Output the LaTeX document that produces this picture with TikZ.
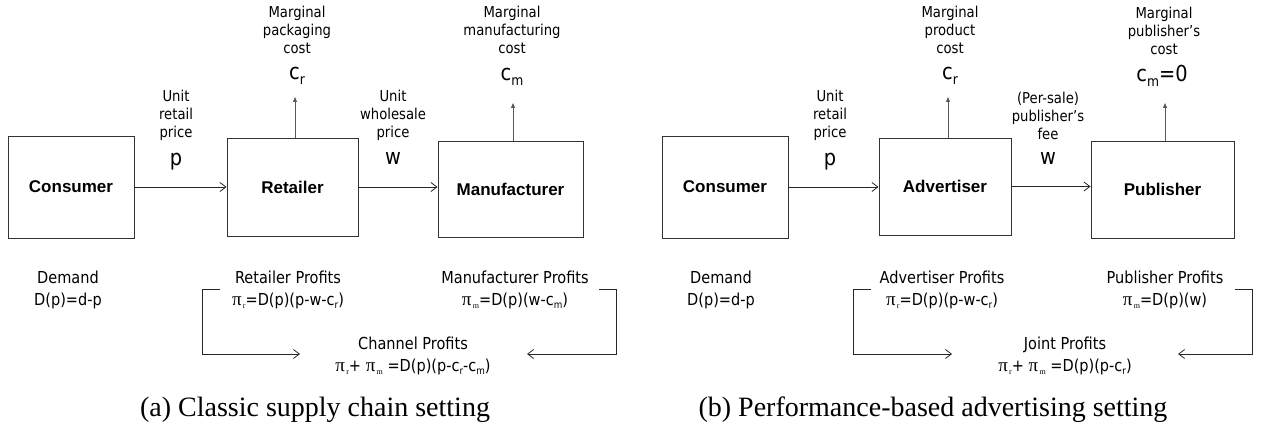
\documentclass[tikz,border=0pt]{standalone}
\usepackage{fontspec}
\setmainfont{DejaVu Sans}[FakeStretch=0.88]
\newfontfamily\boxfont{Liberation Sans}
\newfontfamily\serfont{Liberation Serif}
\usetikzlibrary{arrows.meta}

\newcommand\fs[2]{\fontsize{#1}{#2}\selectfont}
% profit symbol pi with a tiny serif subscript
\newcommand\pisub[1]{{\serfont\fs{19}{22}π}\raisebox{-3pt}{\serfont\fs{8}{8}\,#1}}
% small subscript inside formulas
\newcommand\sub[1]{\raisebox{-3pt}{\fs{10}{10}#1}}
% subscript for the large cost symbols
\newcommand\bigsub[1]{\raisebox{-5pt}{\fs{14}{14}#1}}

\begin{document}
\begin{tikzpicture}[x=1pt,y=-1pt,
  box/.style={draw=black!80,line width=0.9pt,font=\boxfont\bfseries\fs{17}{20},inner sep=0pt},
  lab/.style={align=center,font=\fs{15}{18},inner sep=0pt},
  sym/.style={anchor=base,font=\fs{22}{24},inner sep=0pt},
  prof/.style={align=center,font=\fs{16.5}{22},inner sep=0pt},
  flow/.style={line width=0.8pt,draw=black!85,-{Straight Barb[length=6pt,width=9pt]}},
  cost/.style={line width=0.9pt,draw=black!65,-{Triangle[length=5pt,width=4pt]}},
  link/.style={line width=0.8pt,draw=black!85},
  caption/.style={font=\serfont\fs{28}{30},inner sep=0pt}
]
\useasboundingbox (0,0) rectangle (1261,435);

% ---------- (a) classic supply chain ----------
\node[box,minimum width=126,minimum height=102] (con1) at (71,187) {Consumer};
\node[box,minimum width=131,minimum height=98] (ret) at (292.5,187) {Retailer};
\node[box,minimum width=145,minimum height=96] (man) at (510.5,189) {Manufacturer};

\draw[flow] (con1.east) -- (con1.east -| ret.west);
\draw[flow] (ret.east) -- (ret.east -| man.west);

\coordinate (cr1) at (295,97);
\coordinate (cm1) at (513,103);
\draw[cost] (ret.north -| cr1) -- (cr1);
\draw[cost] (man.north -| cm1) -- (cm1);

\node[lab] (pricep1) at (176,115) {Unit\\retail\\price};
\node[sym] (p1) at (176,166) {p};
\node[lab] (pricew1) at (393,115) {Unit\\wholesale\\price};
\node[sym] (w1) at (393,165) {w};
\node[lab] (costr1) at (297,30) {Marginal\\packaging\\cost};
\node[sym] (cr1l) at (297,80) {c\bigsub{r}};
\node[lab] (costm1) at (512,30) {Marginal\\manufacturing\\cost};
\node[sym] (cm1l) at (512,81) {c\bigsub{m}};

\node[prof] (dem1) at (68,290) {Demand\\D(p)=d-p};
\node[prof] (rp) at (288,290) {Retailer Profits\\\pisub{r}=D(p)(p-w-c\sub{r})};
\node[prof] (mp) at (515,290) {Manufacturer Profits\\\pisub{m}=D(p)(w-c\sub{m})};
\node[prof] (cp) at (413,356) {Channel Profits\\\pisub{r}+ \pisub{m} =D(p)(p-c\sub{r}-c\sub{m})};

\coordinate (l1s) at (220,289);
\coordinate (l1c) at (202,354);
\coordinate (l1e) at (300,354);
\draw[link,flow] (l1s) -- (l1s -| l1c) -- (l1c) -- (l1e);
\coordinate (r1s) at (599,289);
\coordinate (r1c) at (616,354);
\coordinate (r1e) at (527,354);
\draw[link,flow] (r1s) -- (r1s -| r1c) -- (r1c) -- (r1e);

\node[caption] (capa) at (315,410) {(a) Classic supply chain setting};

% ---------- (b) performance-based advertising ----------
\node[box,minimum width=126,minimum height=102] (con2) at (725,187) {Consumer};
\node[box,minimum width=132,minimum height=97] (adv) at (945,186.5) {Advertiser};
\node[box,minimum width=143,minimum height=97] (pub) at (1162.5,189.5) {Publisher};

\draw[flow] (con2.east) -- (con2.east -| adv.west);
\draw[flow] (adv.east) -- (adv.east -| pub.west);

\coordinate (cr2) at (948,97);
\coordinate (cm2) at (1165,103);
\draw[cost] (adv.north -| cr2) -- (cr2);
\draw[cost] (pub.north -| cm2) -- (cm2);

\node[lab] (pricep2) at (830,115) {Unit\\retail\\price};
\node[sym] (p2) at (830,166) {p};
\node[lab] (fee2) at (1048,116) {(Per-sale)\\publisher's\\fee};
\node[sym] (w2) at (1048,165) {w};
\node[lab] (costr2) at (950,30) {Marginal\\product\\cost};
\node[sym] (cr2l) at (950,80) {c\bigsub{r}};
\node[lab] (costm2) at (1164,31) {Marginal\\publisher's\\cost};
\node[sym] (cm2l) at (1162,82) {c\bigsub{m}=0};

\node[prof] (dem2) at (721,290) {Demand\\D(p)=d-p};
\node[prof] (ap) at (942,290) {Advertiser Profits\\\pisub{r}=D(p)(p-w-c\sub{r})};
\node[prof] (pp) at (1165,290) {Publisher Profits\\\pisub{m}=D(p)(w)};
\node[prof] (jp) at (1065,356) {Joint Profits\\\pisub{r}+ \pisub{m} =D(p)(p-c\sub{r})};

\coordinate (l2s) at (871,289);
\coordinate (l2c) at (853,354);
\coordinate (l2e) at (952,354);
\draw[link,flow] (l2s) -- (l2s -| l2c) -- (l2c) -- (l2e);
\coordinate (r2s) at (1235,289);
\coordinate (r2c) at (1252,354);
\coordinate (r2e) at (1178,354);
\draw[link,flow] (r2s) -- (r2s -| r2c) -- (r2c) -- (r2e);

\node[caption] (capb) at (933,410) {(b) Performance-based advertising setting};
\end{tikzpicture}
\end{document}
